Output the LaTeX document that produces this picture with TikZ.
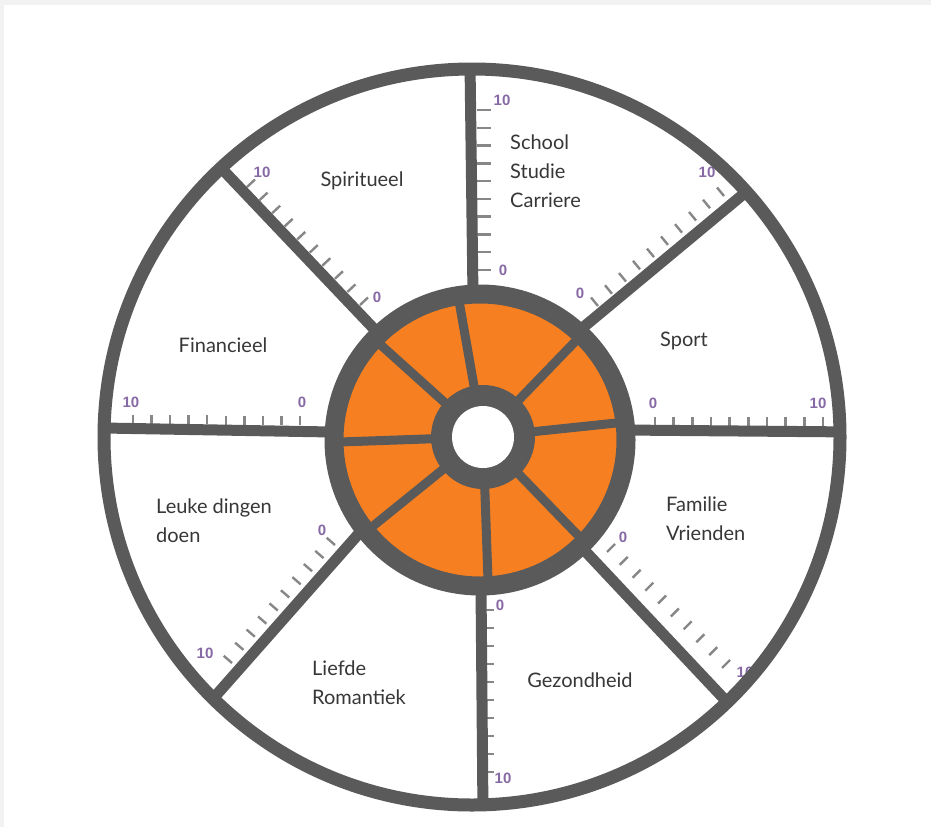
\documentclass[tikz,border=0pt]{standalone}
\usepackage{fontspec}
\setmainfont{Lato}
\newfontfamily\numfont{Liberation Sans}
\usetikzlibrary{calc}
\definecolor{wheelgray}{RGB}{90,90,90}
\definecolor{wheelorange}{RGB}{246,128,33}
\definecolor{tickgray}{RGB}{135,135,135}
\definecolor{numpurple}{RGB}{135,105,165}
\definecolor{textdark}{RGB}{55,55,55}
\definecolor{pagegray}{RGB}{242,242,242}
\begin{document}
\begin{tikzpicture}[x=1pt,y=-1pt,
  rim/.style={draw=wheelgray,line width=13pt},
  spoke/.style={draw=wheelgray,line width=11pt,line cap=round},
  innerspoke/.style={draw=wheelgray,line width=9pt,line cap=round},
  tickmark/.style={draw=tickgray,line width=2.4pt},
  num/.style={font=\numfont\bfseries\fontsize{15}{15}\selectfont,text=numpurple,inner sep=0pt},
  lbl/.style={font=\fontsize{20}{29}\selectfont,text=textdark,inner sep=0pt,align=left},
]
\useasboundingbox (0,0) rectangle (931,827);
\fill[pagegray] (0,0) rectangle (931,827);
\fill[white] (4,5) rectangle (931,827);

\coordinate (wheelc) at (472,437);
\coordinate (ringc) at (480,440);
\coordinate (hub) at (483,437);
% outer ends of spokes (on the rim)
\coordinate (oT) at ($(wheelc)+(90.3:368pt)$);
\coordinate (oUR) at ($(wheelc)+(41.8:368pt)$);
\coordinate (oR) at ($(wheelc)+(0.8:368pt)$);
\coordinate (oLR) at ($(wheelc)+(-46.1:368pt)$);
\coordinate (oB) at ($(wheelc)+(-88.3:368pt)$);
\coordinate (oLL) at ($(wheelc)+(-134.7:368pt)$);
\coordinate (oL) at ($(wheelc)+(178.6:368pt)$);
\coordinate (oUL) at ($(wheelc)+(133:368pt)$);
% inner ends of spokes
\coordinate (iT) at (473,296);
\coordinate (iUR) at (580,330);
\coordinate (iR) at (622,430);
\coordinate (iLR) at (586,552);
\coordinate (iB) at (481,586);
\coordinate (iLL) at (362,530);
\coordinate (iL) at (332,432);
\coordinate (iUL) at (376,331);

% scale ticks
\foreach \ax/\ay/\bx/\by/\nx/\ny in {477/270/477/110/14/0, 598/306/724/196/-7/-8.5, 655/426/823/426/0/-9, 607/552/722/668/8/-8, 486/610/486/772/8/0, 335/545/232/663/-8.3/-7.2, 300/425/133/424/0/-9, 360/305/247/187/8/-7.5}
{
  \foreach \i in {0,...,9}
  {
    \draw[tickmark] ({\ax+(\bx-\ax)*\i/9},{\ay+(\by-\ay)*\i/9}) -- ++(\nx,\ny);
  }
}

% scale numbers
\node[num] (n0T) at (503,270) {0};
\node[num] (n10T) at (502,100) {10};
\node[num] (n0UR) at (580,293) {0};
\node[num] (n10UR) at (707,172) {10};
\node[num] (n0R) at (653,403) {0};
\node[num] (n10R) at (818,403) {10};
\node[num] (n0LR) at (623,537) {0};
\node[num] (n10LR) at (745,672) {10};
\node[num] (n0B) at (500,605) {0};
\node[num] (n10B) at (503,778) {10};
\node[num] (n0LL) at (322,530) {0};
\node[num] (n10LL) at (205,653) {10};
\node[num] (n0L) at (302,402) {0};
\node[num] (n10L) at (131,402) {10};
\node[num] (n0UL) at (377,297) {0};
\node[num] (n10UL) at (262,172) {10};

% outer rim
\draw[rim] (wheelc) circle[radius=368pt];

% spokes
\foreach \s in {T,UR,R,LR,B,LL,L,UL}
  \draw[spoke] (i\s) -- (o\s);

% orange ring
\fill[wheelorange] (ringc) circle[radius=146pt];
\draw[wheelgray,line width=19pt] (ringc) circle[radius=146pt];

% inner spokes
\foreach \a in {100,138,182,219,272,314,6,46}
  \draw[innerspoke] ($(hub)+(\a:44pt)$) -- ($(hub)+(\a:140pt)$);

% hub
\fill[wheelgray] (hub) circle[radius=52pt];
\fill[white] (hub) circle[radius=31pt];

% labels
\node[lbl,anchor=west] (school) at (510,171) {School\\Studie\\Carriere};
\node[lbl] (spir) at (362,181) {Spiritueel};
\node[lbl] (sport) at (684,341) {Sport};
\node[lbl] (fin) at (223,345) {Financieel};
\node[lbl,anchor=west] (leuke) at (156,521) {Leuke dingen\\doen};
\node[lbl,anchor=west] (fam) at (666,519) {Familie\\Vrienden};
\node[lbl] (gez) at (580,680) {Gezondheid};
\node[lbl,anchor=west] (liefde) at (312,683) {Liefde\\Romantiek};
\end{tikzpicture}
\end{document}
